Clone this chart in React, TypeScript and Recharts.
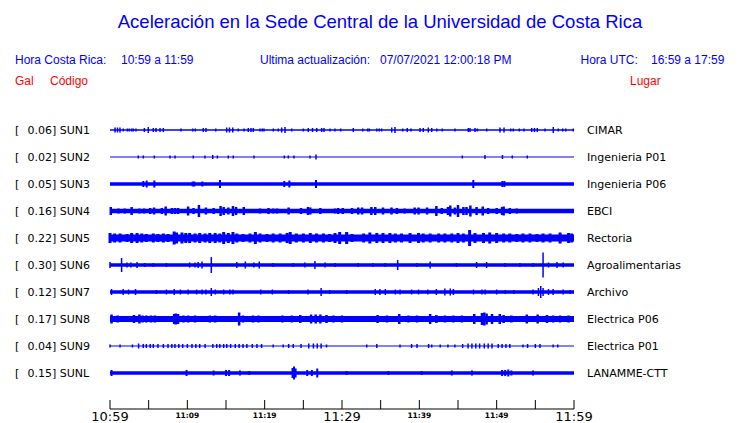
import React from "react"
import {
  ComposedChart,
  XAxis,
  YAxis,
  Scatter,
  ErrorBar,
  ReferenceArea,
} from "recharts"

// station table, top to bottom
const CODES = ["SUN1", "SUN2", "SUN3", "SUN4", "SUN5", "SUN6", "SUN7", "SUN8", "SUN9", "SUNL"]
const PEAKS = ["0.06", "0.02", "0.05", "0.16", "0.22", "0.30", "0.12", "0.17", "0.04", "0.15"]
const PLACES = [
  "CIMAR", "Ingenieria P01", "Ingenieria P06", "EBCI", "Rectoria",
  "Agroalimentarias", "Archivo", "Electrica P06", "Electrica P01", "LANAMME-CTT",
]

// noise floor (half height, 1/27 of a row) for each trace
const BASE = [0.75, 0.5, 1.75, 2.25, 3.5, 1.75, 1.75, 3, 0.5, 1.75]

// bursts: [minute after 10:59, half height]
const SUN1: [number, number][] = [
  [0.65, 2.5], [0.97, 2.5], [1.29, 2.5], [1.72, 1.5], [2.24, 1.5], [2.5, 1.5], [2.81, 1.5], [3.01, 1.5],
  [3.36, 1.5], [4.44, 2], [4.95, 3], [5.6, 2], [5.95, 2], [6.47, 2], [6.89, 2], [9.18, 1.5],
  [10.69, 1.5], [11.03, 1.5], [12.06, 2], [12.41, 2], [13.67, 1.5], [15.09, 2.5], [15.45, 2.5], [15.87, 2.5],
  [16.59, 1.5], [17.33, 1.5], [17.88, 2], [18.23, 2], [18.53, 2], [19.4, 1.5], [19.69, 1.5], [19.91, 1.5],
  [21.12, 1.5], [21.76, 1.5], [22.2, 2.5], [22.63, 3], [23.5, 1.5], [25.0, 1.5], [25.64, 2], [26.19, 2],
  [26.73, 2], [27.37, 2], [27.67, 2], [28.45, 1.5], [29.09, 1.5], [29.83, 1.5], [31.46, 2], [32.68, 1.5],
  [33.32, 1.5], [33.53, 1.5], [34.49, 1.5], [34.82, 1.5], [35.13, 1.5], [36.43, 2.5], [36.85, 3], [37.85, 1.5],
  [38.44, 2], [38.92, 1.5], [40.09, 2], [40.51, 2], [41.16, 2.5], [41.6, 2], [42.25, 1.5], [42.97, 1.5],
  [44.61, 1.5], [46.33, 2], [46.55, 2], [47.2, 2], [47.5, 1.5], [48.71, 1.5], [50.43, 2.5], [50.95, 2.5],
  [51.81, 1.5], [52.15, 1.5], [52.93, 1.5], [53.53, 1.5], [54.53, 2], [54.89, 2], [55.25, 2], [56.25, 1.5],
  [57.32, 3], [57.97, 1.5], [58.54, 1.5], [58.93, 1.5], [59.91, 1.5],
]
const SUN2: [number, number][] = [
  [3.66, 1.5], [4.31, 1.5], [5.73, 1.5], [7.76, 1.5], [8.41, 1.5], [10.77, 1.5], [12.28, 1.5], [13.28, 2],
  [13.88, 1.5], [15.3, 1.5], [15.94, 1.5], [18.62, 1.5], [22.54, 1.5], [23.06, 1.5], [23.79, 1.5], [25.86, 1.5],
  [26.64, 2.5], [45.56, 1.5], [48.49, 2], [50.75, 2], [52.02, 1.5], [53.96, 1.5],
]
const SUN3: [number, number][] = [
  [4.31, 3], [4.74, 3.5], [5.73, 3.5], [10.69, 2.5], [10.9, 2.5], [11.94, 2.5], [14.22, 4], [22.54, 3],
  [23.19, 3.5], [26.64, 4], [46.98, 4], [50.73, 3], [50.99, 3],
]
const SUN4: [number, number][] = [
  [0.1, 4], [1.1, 2.5], [1.9, 2.5], [2.8, 4], [3.8, 2.5], [4.4, 2.5], [5.2, 3], [5.7, 3.5],
  [6.7, 3], [7.2, 4.5], [8.0, 3], [8.4, 3], [8.8, 3], [10.1, 4.5], [10.8, 3], [11.5, 6],
  [12.4, 3.5], [13.4, 3], [14.3, 5], [14.7, 4], [15.3, 3.5], [15.9, 5], [16.3, 4], [17.3, 4],
  [19.4, 2.5], [20.5, 3], [21.1, 2.5], [21.6, 2.5], [23.1, 3.5], [24.7, 3], [25.6, 4], [25.9, 3.5],
  [27.2, 3], [29.1, 2.5], [29.5, 3], [30.1, 3], [31.3, 3], [32.1, 3.5], [32.6, 3.5], [33.8, 4],
  [34.3, 4], [35.3, 3.5], [36.4, 3.5], [37.1, 3], [38.1, 2.5], [39.4, 3.5], [39.9, 3.5], [41.0, 3.5],
  [42.2, 5], [42.9, 3], [43.7, 4], [44.0, 5.5], [44.6, 3.5], [45.0, 6], [45.7, 4], [46.1, 4],
  [46.6, 5.5], [47.4, 4], [48.2, 4.5], [48.9, 3], [50.0, 3], [50.7, 4], [50.9, 4.5], [51.7, 3],
  [52.6, 2.5], [54.3, 2], [55.3, 2], [56.9, 2], [58.6, 2], [59.7, 2],
]
const SUN5: [number, number][] = [
  [0.0, 5], [0.6, 4.5], [1.3, 4.5], [2.2, 4], [2.8, 5], [3.5, 5], [4.1, 4.5], [4.7, 4],
  [5.6, 4.5], [6.2, 4], [6.9, 4.5], [7.5, 4], [8.3, 6.5], [8.6, 5.5], [9.3, 5.5], [9.8, 5],
  [10.3, 5], [11.0, 4.5], [11.6, 5], [12.3, 4.5], [12.9, 5], [13.6, 5], [14.2, 4.5], [14.7, 6],
  [15.3, 5], [15.9, 6], [16.4, 4.5], [17.2, 4], [18.1, 4.5], [18.8, 6], [19.4, 4.5], [20.3, 4],
  [21.1, 4.5], [22.0, 4.5], [22.9, 5], [23.3, 6], [24.1, 4.5], [25.0, 4.5], [25.9, 5], [26.7, 4.5],
  [27.6, 4.5], [28.4, 4], [29.1, 5], [29.7, 6], [30.6, 6], [31.3, 4], [32.8, 4.5], [33.6, 5.5],
  [34.5, 5], [35.3, 5], [36.2, 5], [36.9, 4.5], [37.7, 4.5], [38.8, 5], [39.9, 5], [40.5, 4.5],
  [41.4, 4.5], [42.5, 4.5], [43.3, 4.5], [44.2, 4.5], [45.0, 5], [45.7, 4.5], [46.5, 8], [47.2, 5],
  [48.3, 5], [49.1, 5.5], [50.0, 5], [50.9, 4.5], [51.7, 4.5], [52.6, 4], [53.4, 4.5], [54.3, 4.5],
  [55.2, 4], [56.0, 4.5], [56.9, 4.5], [58.2, 5.5], [59.3, 5], [59.7, 4.5],
]
const SUN6: [number, number][] = [
  [0.0, 3], [1.5, 7], [2.2, 2.5], [2.7, 2.5], [3.5, 3], [4.5, 2], [5.6, 2], [7.3, 2],
  [10.3, 2.5], [11.0, 2.5], [11.4, 3], [11.9, 3.5], [13.1, 8], [16.4, 3], [17.5, 3.5], [18.6, 2.5],
  [19.3, 3.5], [21.1, 2], [23.7, 2], [25.2, 2.5], [26.5, 4], [27.8, 2.5], [29.1, 2], [32.1, 2],
  [34.0, 2], [35.6, 2], [37.2, 5], [39.7, 2], [41.4, 3.5], [44.8, 2], [47.4, 3], [48.7, 3],
  [51.1, 2], [53.0, 2], [54.7, 2], [56.0, 12.5], [56.7, 2.5], [57.8, 3], [58.6, 2.5],
]
const SUN7: [number, number][] = [
  [0.2, 3], [1.7, 3], [2.4, 2.5], [3.3, 3], [6.0, 2], [7.3, 2.5], [8.3, 3], [9.1, 2.5],
  [10.1, 2.5], [11.2, 2.5], [11.9, 2.5], [12.4, 2.5], [13.1, 4], [13.6, 2.5], [14.7, 2.5], [15.5, 2.5],
  [15.9, 2.5], [19.5, 2.5], [21.0, 2.5], [23.1, 2], [25.6, 2.5], [27.3, 4], [28.4, 2], [30.6, 2],
  [34.3, 3], [34.9, 3], [35.6, 3], [36.9, 2.5], [37.5, 2.5], [39.0, 2.5], [39.9, 2.5], [41.1, 2.5],
  [42.2, 3], [43.3, 3.5], [44.0, 3.5], [44.4, 3], [47.0, 2.5], [48.1, 2.5], [48.5, 2.5], [50.0, 2.5],
  [51.1, 2], [52.2, 2], [54.7, 2.5], [55.4, 4], [55.7, 6], [56.0, 4], [56.7, 3], [57.3, 3],
  [58.6, 2.5], [59.5, 2],
]
const SUN8: [number, number][] = [
  [0.2, 4.5], [1.0, 3.5], [1.9, 3], [3.1, 4], [3.8, 4.5], [4.2, 3.5], [4.7, 3.5], [5.3, 3.5],
  [5.8, 3.5], [6.5, 3], [7.3, 3], [8.3, 5], [8.5, 5.5], [8.8, 5], [9.5, 3.5], [10.1, 3.5],
  [11.0, 3.5], [11.6, 3], [12.9, 3.5], [13.6, 3.5], [14.2, 3], [15.4, 3], [16.7, 6.5], [17.2, 3.5],
  [18.5, 3.5], [19.2, 3.5], [19.8, 3], [20.7, 3], [22.3, 3.5], [23.5, 3.5], [24.6, 4], [26.0, 4.5],
  [26.6, 4.5], [27.2, 4.5], [28.0, 4], [28.9, 3.5], [30.0, 3.5], [30.6, 3], [32.8, 3], [34.6, 4],
  [35.8, 3.5], [37.4, 5], [38.6, 3.5], [39.7, 3.5], [41.4, 5], [42.2, 4], [43.3, 3.5], [44.4, 3.5],
  [45.5, 3.5], [47.1, 5], [48.1, 6], [48.4, 6.5], [48.7, 5.5], [49.4, 5], [50.4, 5], [50.9, 4],
  [51.9, 3.5], [53.9, 4.5], [55.3, 4.5], [56.5, 4], [57.3, 3.5], [58.2, 3.5], [59.3, 3.5],
]
const SUN9: [number, number][] = [
  [0.0, 1.5], [1.3, 1.5], [2.9, 1.5], [3.7, 2.5], [4.3, 2], [4.7, 2], [5.2, 2], [5.6, 2],
  [6.2, 2], [6.9, 2], [7.5, 2], [8.0, 2], [8.4, 2], [8.9, 2], [9.4, 2], [10.0, 2],
  [10.6, 2], [11.1, 2], [11.6, 2], [12.3, 2], [13.3, 2], [13.8, 2], [14.2, 2], [14.7, 2],
  [15.1, 2], [15.6, 2], [16.2, 2], [16.7, 2], [17.2, 2], [17.7, 2], [18.4, 2], [19.0, 2],
  [19.6, 2], [21.1, 1.5], [22.4, 1.5], [23.1, 2], [23.7, 2], [24.7, 2], [25.7, 2.5], [26.3, 2.5],
  [26.8, 2.5], [27.3, 2.5], [28.0, 1.5], [33.2, 1.5], [34.5, 2], [37.5, 1.5], [39.0, 2], [39.7, 2],
  [41.2, 2], [41.6, 1.5], [42.7, 1.5], [43.7, 1.5], [44.6, 1.5], [45.6, 2], [46.3, 2.5], [46.8, 2.5],
  [47.3, 2.5], [47.8, 2.5], [48.4, 2.5], [48.9, 2.5], [49.4, 2.5], [50.2, 2], [50.7, 2], [51.2, 2],
  [51.7, 2], [53.4, 1.5], [54.0, 2], [55.0, 2], [55.6, 2], [57.3, 1.5], [57.9, 1.5],
]
const SUNL: [number, number][] = [
  [0.2, 3], [9.9, 3], [13.4, 2.5], [15.0, 3], [15.4, 3], [16.8, 2.5], [18.0, 2], [23.6, 5],
  [23.8, 6.5], [24.0, 4.5], [25.5, 3], [26.1, 3], [26.8, 4.5], [30.6, 2], [36.0, 2], [40.3, 2],
  [44.2, 2.5], [46.8, 2.5], [50.7, 3], [51.1, 3], [51.5, 3.5], [51.9, 2.5], [54.7, 2.5],
]
const SPIKES = [SUN1, SUN2, SUN3, SUN4, SUN5, SUN6, SUN7, SUN8, SUN9, SUNL]

const TICK_MINUTES = [0, 5, 10, 15, 20, 25, 30, 35, 40, 45, 50, 55, 60]
const TICK_TEXT = ["10:59", "", "11:09", "", "11:19", "", "11:29", "", "11:39", "", "11:49", "", "11:59"]

const BLUE = "#0000ff"
const RED = "#ff0000"
const ROW_PX = 27
const SPIKE_WIDTH = [1.5, 1.5, 2, 2.5, 3, 1.5, 1.5, 2.5, 1.5, 2]

const rowY = (i: number) => 10 - i

function RowTick(props: any) {
  const { y, payload } = props
  const i = 10 - payload.value
  return (
    <g fontFamily="DejaVu Sans" fontSize={11} fill="#000">
      <text x={15} y={y + 4}>[</text>
      <text x={27.5} y={y + 4}>{PEAKS[i]}] {CODES[i]}</text>
      <text x={587} y={y + 4}>{PLACES[i]}</text>
    </g>
  )
}

function TimeTick(props: any) {
  const { x, y, payload } = props
  const idx = TICK_MINUTES.indexOf(payload.value)
  const label = TICK_TEXT[idx]
  const big = idx % 6 === 0
  return (
    <g>
      <line x1={x} x2={x} y1={y - 9} y2={y} stroke="#000" />
      {label && (
        <text
          x={x}
          y={big ? y + 12 : y + 9}
          textAnchor="middle"
          fontFamily="DejaVu Sans"
          fontSize={big ? 13 : 7.5}
          fontWeight={big ? "normal" : "bold"}
          fill="#000"
        >
          {label}
        </text>
      )}
    </g>
  )
}

const txt = (left: number, top: number, color: string, s: string, size = 12) => (
  <div style={{ position: "absolute", left, top, color, fontSize: size, whiteSpace: "pre", lineHeight: 1 }}>{s}</div>
)

export default function App() {
  return (
    <div style={{ position: "absolute", left: 0, top: 0, width: 740, height: 423, background: "#fff", fontFamily: "Liberation Sans, Arial, sans-serif" }}>
      <div style={{ position: "absolute", left: 0, top: 13, width: 760, textAlign: "center", color: BLUE, fontSize: 18.5, lineHeight: 1 }}>
        Aceleración en la Sede Central de la Universidad de Costa Rica
      </div>
      {txt(15, 54, BLUE, "Hora Costa Rica:")}
      {txt(121, 54, BLUE, "10:59 a 11:59")}
      {txt(260, 54, BLUE, "Ultima actualización:")}
      {txt(380, 54, BLUE, "07/07/2021 12:00:18 PM")}
      {txt(580.5, 54, BLUE, "Hora UTC:")}
      {txt(651, 54, BLUE, "16:59 a 17:59")}
      {txt(15, 75, RED, "Gal")}
      {txt(50, 75, RED, "Código")}
      {txt(630, 75, RED, "Lugar")}
      <div style={{ position: "absolute", left: 0, top: 0 }}>
        <ComposedChart width={740} height={423} margin={{ top: 116.5, right: 166, bottom: 0, left: 100 }}>
          <XAxis
            type="number"
            dataKey="x"
            domain={[0, 60]}
            ticks={TICK_MINUTES}
            interval={0}
            tick={<TimeTick />}
            tickLine={false}
            tickSize={0}
            tickMargin={0}
            height={14}
            axisLine={{ stroke: "#000" }}
          />
          <YAxis
            type="number"
            dataKey="y"
            domain={[-1 / 3, 10.5]}
            ticks={[10, 9, 8, 7, 6, 5, 4, 3, 2, 1]}
            interval={0}
            tick={<RowTick />}
            width={10}
            axisLine={false}
            tickLine={false}
          />
          {BASE.map((b, i) => (
            <ReferenceArea
              key={"b" + i}
              x1={0}
              x2={60}
              y1={rowY(i) - b / ROW_PX}
              y2={rowY(i) + b / ROW_PX}
              fill={BLUE}
              fillOpacity={1}
              stroke="none"
            />
          ))}
          {SPIKES.map((list, i) => (
            <Scatter
              key={CODES[i]}
              data={list.map(([t, a]) => ({ x: t, y: rowY(i), err: a / ROW_PX }))}
              shape={() => <g />}
              isAnimationActive={false}
            >
              <ErrorBar dataKey="err" direction="y" width={0} stroke={BLUE} strokeWidth={SPIKE_WIDTH[i]} isAnimationActive={false} />
            </Scatter>
          ))}
        </ComposedChart>
      </div>
    </div>
  )
}
